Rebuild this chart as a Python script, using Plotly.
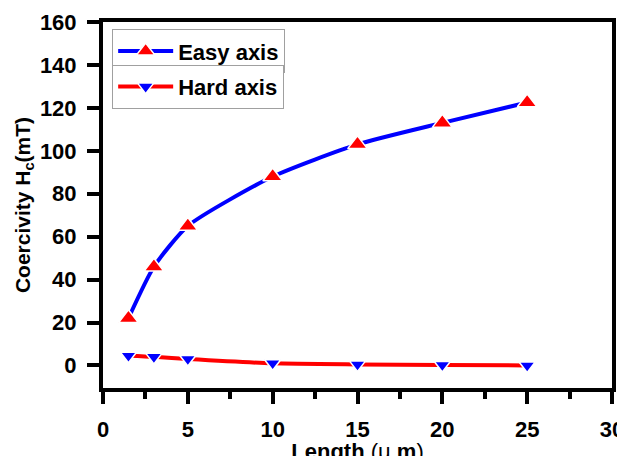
import plotly.graph_objects as go

length_um = [1.5, 3, 5, 10, 15, 20, 25]
easy_axis = [22, 46, 65, 88, 103, 113, 122.5]
hard_axis = [4.5, 4, 3, 1, 0.5, 0.2, 0]
x_ticks = [0, 5, 10, 15, 20, 25, 30]
y_ticks = [0, 20, 40, 60, 80, 100, 120, 140, 160]

font = "Liberation Sans, Arial, sans-serif"

fig = go.Figure()
fig.add_trace(go.Scatter(
    x=length_um, y=easy_axis, name="<b>Easy axis</b>", mode="lines+markers",
    line=dict(color="#0000ff", width=4, shape="spline", smoothing=0.6),
    marker=dict(symbol="triangle-up", size=17, color="#ff0000",
                line=dict(color="white", width=1.5)),
    legend="legend2"))
fig.add_trace(go.Scatter(
    x=length_um, y=hard_axis, name="<b>Hard axis</b>", mode="lines+markers",
    line=dict(color="#ff0000", width=4, shape="spline", smoothing=0.6),
    marker=dict(symbol="triangle-down", size=14, color="#0000ff",
                line=dict(color="white", width=1.5)),
    legend="legend3"))

axis_common = dict(
    showgrid=False, zeroline=False, showline=True, linecolor="black", linewidth=4,
    mirror=True, ticks="outside", ticklen=12, tickwidth=4, tickcolor="black",
    tickfont=dict(family=font, size=22, color="black", weight="bold"),
    automargin=False,
)
fig.update_xaxes(range=[0, 30], tickvals=x_ticks, ticklabelstandoff=7,
                 minor=dict(ticks="outside", ticklen=7, tickwidth=4, tickcolor="black", dtick=2.5, tick0=0),
                 title=dict(text="<b>Length</b> (μ <b>m</b>)", font=dict(family=font, size=22, color="black"), standoff=0),
                 **axis_common)
fig.update_yaxes(range=[-10.5, 160], tickvals=y_ticks, ticklabelstandoff=6,
                 title=dict(text="<b>Coercivity H<sub>c</sub>(mT)</b>", font=dict(family=font, size=21, color="black"), standoff=5),
                 **axis_common)

leg_common = dict(
    bgcolor="white", bordercolor="#a0a0a0", borderwidth=1,
    font=dict(family=font, size=22, color="black"),
    xanchor="left", yanchor="top", itemwidth=55, tracegroupgap=0,
)
fig.update_layout(
    width=625, height=456,
    margin=dict(l=95, r=21, t=14, b=76),
    paper_bgcolor="white", plot_bgcolor="white",
    showlegend=True,
    legend2=dict(x=0.018, y=0.98, **leg_common),
    legend3=dict(x=0.018, y=0.883, **leg_common),
)
fig.write_html("out.html")
